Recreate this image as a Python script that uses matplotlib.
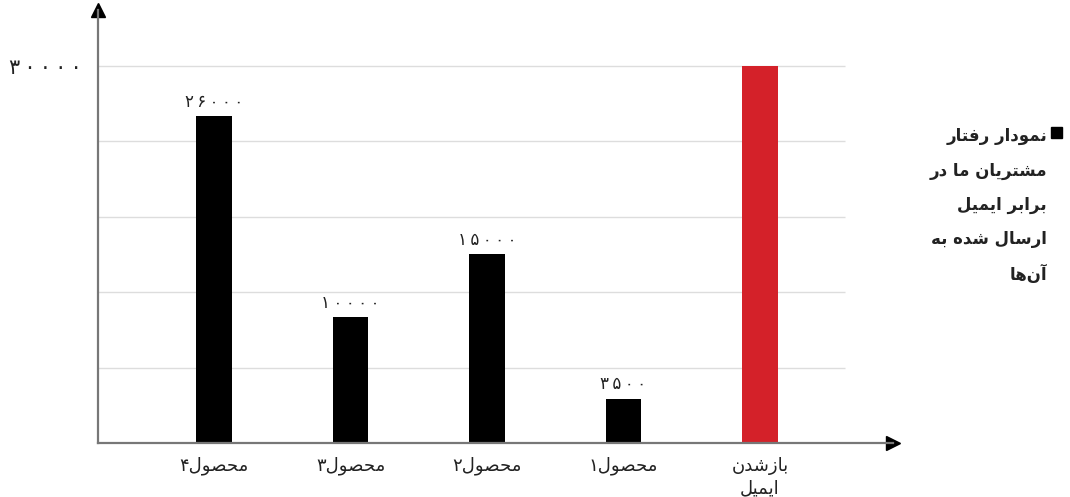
import matplotlib
matplotlib.use("Agg")
import matplotlib.pyplot as plt

# contextual forms: isolated, final, initial, medial
FORMS = {
    'ا': ('\uFE8D', '\uFE8E', None, None),
    'آ': ('\uFE81', '\uFE82', None, None),
    'ب': ('\uFE8F', '\uFE90', '\uFE91', '\uFE92'),
    'ت': ('\uFE95', '\uFE96', '\uFE97', '\uFE98'),
    'ح': ('\uFEA1', '\uFEA2', '\uFEA3', '\uFEA4'),
    'د': ('\uFEA9', '\uFEAA', None, None),
    'ر': ('\uFEAD', '\uFEAE', None, None),
    'ز': ('\uFEAF', '\uFEB0', None, None),
    'س': ('\uFEB1', '\uFEB2', '\uFEB3', '\uFEB4'),
    'ش': ('\uFEB5', '\uFEB6', '\uFEB7', '\uFEB8'),
    'ص': ('\uFEB9', '\uFEBA', '\uFEBB', '\uFEBC'),
    'ف': ('\uFED1', '\uFED2', '\uFED3', '\uFED4'),
    'ل': ('\uFEDD', '\uFEDE', '\uFEDF', '\uFEE0'),
    'م': ('\uFEE1', '\uFEE2', '\uFEE3', '\uFEE4'),
    'ن': ('\uFEE5', '\uFEE6', '\uFEE7', '\uFEE8'),
    'ه': ('\uFEE9', '\uFEEA', '\uFEEB', '\uFEEC'),
    'و': ('\uFEED', '\uFEEE', None, None),
    'ی': ('\uFEEF', '\uFEF0', '\uFEF3', '\uFEF4'),
}


def shape_line(text):
    out = []
    for i, c in enumerate(text):
        if c not in FORMS:
            out.append(c)
            continue
        prev = text[i - 1] if i > 0 else None
        nxt = text[i + 1] if i + 1 < len(text) else None
        jp = prev in FORMS and FORMS[prev][2] is not None
        jn = nxt in FORMS and FORMS[c][2] is not None
        iso, fin, ini, med = FORMS[c]
        if jp and jn:
            out.append(med)
        elif jp:
            out.append(fin)
        elif jn:
            out.append(ini)
        else:
            out.append(iso)
    return ''.join(reversed(out)).replace('\u200c', '')


def fa(text):
    return '\n'.join(shape_line(l) for l in text.split('\n'))


def spaced(num, sep='\u2009'):
    return sep.join(num)


categories = ['محصول۴', 'محصول۳', 'محصول۲', 'محصول۱', 'بازشدن\nایمیل']
values = [26000, 10000, 15000, 3500, 30000]
value_labels = ['۲۶۰۰۰', '۱۰۰۰۰', '۱۵۰۰۰', '۳۵۰۰', '']
colors = ['black', 'black', 'black', 'black', '#d42129']
grid_vals = [6000, 12000, 18000, 24000, 30000]
legend_lines = ['نمودار رفتار', 'مشتریان ما در', 'برابر ایمیل', 'ارسال شده به', 'آن\u200cها']

plt.rcParams['font.family'] = ['DejaVu Sans']

fig = plt.figure(figsize=(10.7, 4.97), dpi=100)
ax = fig.add_axes([98 / 1070, 54 / 497, 795 / 1070, 433 / 497])

x = list(range(len(categories)))
ax.set_xlim(-0.850, 4.974)
ax.set_ylim(0, 34446)

ax.hlines(grid_vals, -0.850, 4.623, color='#dddddd', lw=1, zorder=0)
ax.bar(x, values, width=0.26, color=colors, zorder=2)

for xi, v, lab in zip(x, values, value_labels):
    if lab:
        ax.text(xi, v + 450, spaced(lab), ha='center', va='bottom',
                fontsize=12, color='#222222')

for s in ['top', 'right']:
    ax.spines[s].set_visible(False)
for s in ['left', 'bottom']:
    ax.spines[s].set_color('#777777')
    ax.spines[s].set_linewidth(1.6)
ax.plot([0], [1], marker='^', ms=10, color='black', transform=ax.transAxes, clip_on=False)
ax.plot([1], [0], marker='>', ms=10, color='black', transform=ax.transAxes, clip_on=False)

ax.set_yticks([30000])
ax.set_yticklabels([spaced('۳۰۰۰۰')], fontsize=15, color='#222222')
ax.tick_params(axis='y', length=0, pad=12)
ax.set_xticks(x)
ax.set_xticklabels([fa(c) for c in categories], fontsize=13, linespacing=1.3,
                   color='#222222')
ax.tick_params(axis='x', length=0, pad=10)

for i, line in enumerate(legend_lines):
    fig.text(1047 / 1070, 1 - (136 + i * 34.5) / 497, fa(line), ha='right', va='center',
             fontsize=12, fontweight='bold', color='#222222')
fig.patches.append(plt.Rectangle((1051 / 1070, 1 - 138 / 497), 11 / 1070, 11 / 497,
                                 transform=fig.transFigure, color='black'))

fig.savefig('out.png', dpi=100)
